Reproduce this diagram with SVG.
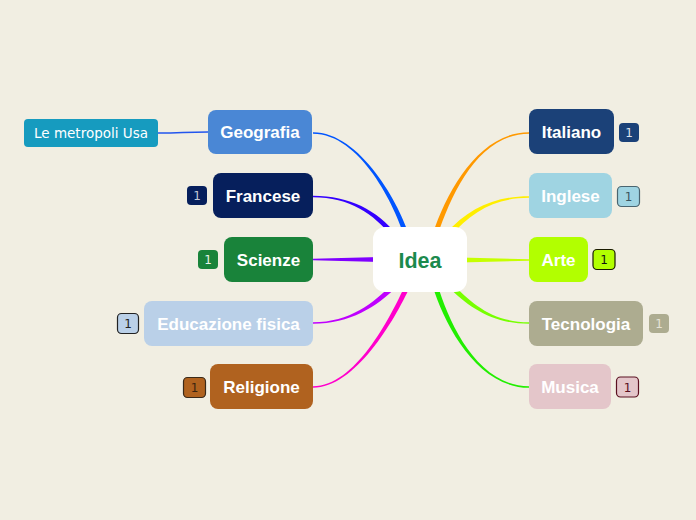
<svg xmlns="http://www.w3.org/2000/svg" width="696" height="520" viewBox="0 0 696 520">
<style>
.n text{font-family:"Liberation Sans",Arial,sans-serif;font-weight:bold;font-size:17px;fill:#fff;text-anchor:middle}
.b text{font-family:"DejaVu Sans",sans-serif;font-size:12px;text-anchor:middle}
.sub text{font-family:"DejaVu Sans",sans-serif;font-size:13.5px;fill:#fff;text-anchor:middle}
</style>
<rect width="696" height="520" fill="#f1eee2"/>
<g id="connectors">
<path d="M313,133.8 C360,133.8 395.6,205.7 405.6,240.7 L410.4,239.3 C400.4,204.3 360,132.2 313,132.2 Z" fill="#0055ff"/>
<path d="M313,197.3 C350,197.3 373.1,213.6 393.1,237.6 L396.9,234.4 C376.9,210.4 350,195.7 313,195.7 Z" fill="#3300ff"/>
<path d="M313,258.8 L380,257 L380,262 L313,260.2 Z" fill="#7f00ff"/>
<path d="M313,323.8 C350,323.8 376.8,306.8 396.8,286.8 L393.2,283.2 C373.2,303.2 350,322.2 313,322.2 Z" fill="#bf00ff"/>
<path d="M313,387.8 C355,387.8 394.3,321 410.3,286 L405.7,284 C389.7,319 355,386.2 313,386.2 Z" fill="#ff00cc"/>
<path d="M529,132.2 C480,132.2 447.6,189.2 432.6,234.2 L437.4,235.8 C452.4,190.8 480,133.8 529,133.8 Z" fill="#ff9900"/>
<path d="M529,196.2 C495,196.2 468.1,208.4 446.1,233.4 L449.9,236.6 C471.9,211.6 495,197.8 529,197.8 Z" fill="#ffee00"/>
<path d="M529,259.2 L460,257.5 L460,262.5 L529,260.8 Z" fill="#c6ff00"/>
<path d="M529,322.2 C492,322.2 471.8,303.2 451.8,283.2 L448.2,286.8 C468.2,306.8 492,323.8 529,323.8 Z" fill="#77ff00"/>
<path d="M529,386.2 C478,386.2 449.4,324.3 437.4,284.3 L432.6,285.7 C444.6,325.7 478,387.8 529,387.8 Z" fill="#22ee00"/>
<path d="M158,133 C183,133 183,132 208,132" fill="none" stroke="#2255ee" stroke-width="1.3"/>
</g>
<g id="idea"><rect x="373" y="227" width="94" height="65" rx="12" fill="#fff"/><text x="420" y="267.5" font-family="Liberation Sans,Arial,sans-serif" font-weight="bold" font-size="21.5" fill="#1b8a4d" text-anchor="middle">Idea</text></g>
<g id="geografia" class="n"><rect x="208" y="110" width="104" height="44" rx="8" fill="#4a87d5"/><text x="260" y="138">Geografia</text></g>
<g id="metropoli" class="sub"><rect x="24" y="119" width="134" height="28" rx="4" fill="#169bbf"/><text x="91" y="138">Le metropoli Usa</text></g>
<g id="francese" class="n"><rect x="213" y="173" width="100" height="45" rx="8" fill="#061f5c"/><text x="263" y="202">Francese</text></g>
<g id="francese-b" class="b"><rect x="187" y="186" width="20" height="19" rx="4" fill="#061f5c"/><text x="197" y="200" fill="#c4cad8">1</text></g>
<g id="scienze" class="n"><rect x="224" y="237" width="89" height="45" rx="8" fill="#19833a"/><text x="268.5" y="266">Scienze</text></g>
<g id="scienze-b" class="b"><rect x="198" y="250" width="20" height="19" rx="4" fill="#19833a"/><text x="208" y="264" fill="#e8f2ea">1</text></g>
<g id="educazione" class="n"><rect x="144" y="301" width="169" height="45" rx="8" fill="#bad0e8"/><text x="228.5" y="330">Educazione fisica</text></g>
<g id="educazione-b" class="b"><rect x="117.5" y="313.5" width="21" height="20" rx="4" fill="#bad0e8" stroke="#222" stroke-width="1.2"/><text x="128" y="328" fill="#222">1</text></g>
<g id="religione" class="n"><rect x="210" y="364" width="103" height="45" rx="8" fill="#b0621f"/><text x="261.5" y="393">Religione</text></g>
<g id="religione-b" class="b"><rect x="183.5" y="377.5" width="22" height="20" rx="4" fill="#b0621f" stroke="#3a2a1a" stroke-width="1.2"/><text x="194.5" y="392" fill="#3a2410">1</text></g>
<g id="italiano" class="n"><rect x="529" y="109" width="85" height="45" rx="8" fill="#1b4178"/><text x="571.5" y="138">Italiano</text></g>
<g id="italiano-b" class="b"><rect x="619" y="123" width="20" height="19" rx="4" fill="#1b4178"/><text x="629" y="137" fill="#dde3ee">1</text></g>
<g id="inglese" class="n"><rect x="529" y="173" width="83" height="45" rx="8" fill="#9fd4e2"/><text x="570.5" y="202">Inglese</text></g>
<g id="inglese-b" class="b"><rect x="617.5" y="186.5" width="22" height="20" rx="4" fill="#9fd4e2" stroke="#4a6570" stroke-width="1.2"/><text x="628.5" y="201" fill="#3a5560">1</text></g>
<g id="arte" class="n"><rect x="529" y="237" width="59" height="45" rx="8" fill="#b2ff00"/><text x="558.5" y="266">Arte</text></g>
<g id="arte-b" class="b"><rect x="593" y="249.5" width="22" height="20" rx="4" fill="#b2ff00" stroke="#1a1a00" stroke-width="1.2"/><text x="604" y="264" fill="#111">1</text></g>
<g id="tecnologia" class="n"><rect x="529" y="301" width="114" height="45" rx="8" fill="#adac90"/><text x="586" y="330">Tecnologia</text></g>
<g id="tecnologia-b" class="b"><rect x="649" y="314" width="20" height="19" rx="4" fill="#adac90"/><text x="659" y="328" fill="#e6e4d6">1</text></g>
<g id="musica" class="n"><rect x="529" y="364" width="82" height="45" rx="8" fill="#e4c6ca"/><text x="570" y="393">Musica</text></g>
<g id="musica-b" class="b"><rect x="616.5" y="377" width="22" height="20" rx="4" fill="#e4c6ca" stroke="#5a1020" stroke-width="1.2"/><text x="627.5" y="391.5" fill="#5a1020">1</text></g>
</svg>
